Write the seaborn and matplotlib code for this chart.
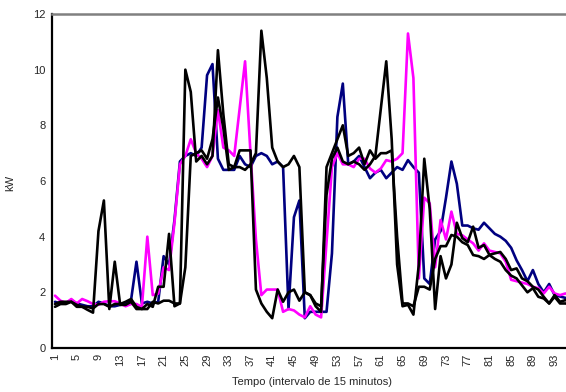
import numpy as np
import pandas as pd
import matplotlib
matplotlib.use("Agg")
import matplotlib.pyplot as plt
import seaborn as sns

# intervals of 15 minutes (96 per day)
tempo = list(range(1, 97))

magenta = [1.88, 1.70, 1.62, 1.76, 1.60, 1.76, 1.68, 1.58, 1.55, 1.66,
           1.68, 1.68, 1.60, 1.50, 1.58, 1.58, 1.48, 4.00, 1.90, 1.95,
           2.90, 2.80, 4.50, 6.60, 6.90, 7.50, 7.00, 6.80, 6.50, 6.90,
           8.55, 7.20, 7.10, 6.90, 8.60, 10.30, 7.00, 3.90, 1.90, 2.10,
           2.10, 2.10, 1.30, 1.40, 1.35, 1.20, 1.10, 1.50, 1.20, 1.10,
           3.80, 6.50, 7.00, 6.60, 6.60, 6.50, 6.80, 6.80, 6.45, 6.30,
           6.45, 6.75, 6.70, 6.80, 7.00, 11.30, 9.70, 2.50, 5.40, 5.20,
           2.90, 4.60, 3.90, 4.90, 4.10, 4.05, 3.90, 3.76, 3.50, 3.76,
           3.50, 3.45, 3.40, 3.10, 2.45, 2.40, 2.35, 2.30, 2.20, 2.15,
           1.96, 2.20, 1.96, 1.90, 1.96, 1.90]

navy = [1.66, 1.60, 1.60, 1.72, 1.60, 1.55, 1.50, 1.50, 1.66, 1.60,
        1.50, 1.50, 1.55, 1.60, 1.72, 3.10, 1.60, 1.66, 1.60, 1.66,
        3.30, 3.00, 4.60, 6.70, 6.90, 7.00, 6.90, 7.20, 9.80, 10.20,
        6.80, 6.40, 6.40, 6.40, 6.90, 6.60, 6.50, 6.90, 7.00, 6.90,
        6.60, 6.70, 6.50, 1.40, 4.70, 5.30, 1.07, 1.30, 1.30, 1.30,
        1.30, 3.40, 8.30, 9.50, 6.60, 6.70, 6.90, 6.50, 6.10, 6.30,
        6.40, 6.10, 6.30, 6.50, 6.40, 6.75, 6.50, 6.30, 2.50, 2.30,
        3.90, 4.20, 5.40, 6.70, 5.90, 4.40, 4.40, 4.30, 4.25, 4.50,
        4.30, 4.10, 4.00, 3.85, 3.60, 3.15, 2.80, 2.40, 2.80, 2.30,
        2.00, 2.30, 1.90, 1.85, 1.80, 1.75]

preto_1 = [1.48, 1.58, 1.58, 1.66, 1.48, 1.48, 1.37, 1.27, 4.20, 5.30,
           1.40, 3.10, 1.55, 1.55, 1.66, 1.40, 1.40, 1.40, 1.66, 1.60,
           1.70, 1.70, 1.60, 1.60, 10.00, 9.20, 6.70, 6.90, 6.60, 6.90,
           10.70, 8.40, 6.60, 6.50, 6.50, 6.40, 6.60, 7.00, 11.40, 9.70,
           7.20, 6.70, 6.50, 6.60, 6.90, 6.50, 2.00, 1.90, 1.60, 1.50,
           5.50, 6.80, 7.20, 6.70, 6.60, 6.70, 6.60, 6.40, 6.60, 6.90,
           8.60, 10.30, 7.50, 3.00, 1.50, 1.55, 1.20, 3.00, 6.80, 5.00,
           1.40, 3.30, 2.50, 3.00, 4.50, 3.95, 3.80, 4.36, 3.60, 3.70,
           3.35, 3.40, 3.45, 3.20, 2.80, 2.86, 2.50, 2.40, 2.20, 2.10,
           1.84, 1.60, 1.90, 1.66, 1.72, 1.65]

preto_2 = [1.58, 1.66, 1.66, 1.66, 1.55, 1.48, 1.48, 1.42, 1.58, 1.58,
           1.48, 1.58, 1.58, 1.66, 1.76, 1.48, 1.40, 1.58, 1.48, 2.20,
           2.20, 4.10, 1.50, 1.60, 2.90, 6.90, 7.00, 7.10, 6.80, 7.50,
           9.00, 7.90, 6.40, 6.50, 7.10, 7.10, 7.10, 2.10, 1.60, 1.30,
           1.07, 2.10, 1.66, 2.00, 2.10, 1.70, 2.00, 1.90, 1.50, 1.30,
           6.50, 7.00, 7.50, 8.00, 6.90, 7.00, 7.20, 6.60, 7.10, 6.80,
           7.00, 7.00, 7.10, 4.00, 1.60, 1.60, 1.50, 2.20, 2.20, 2.10,
           3.20, 3.66, 3.66, 4.06, 4.00, 3.80, 3.70, 3.34, 3.30, 3.20,
           3.34, 3.20, 3.10, 2.80, 2.60, 2.50, 2.25, 2.00, 2.15, 1.84,
           1.78, 1.60, 1.84, 1.60, 1.60, 1.55]

x_labels = list(range(1, 97, 4))

sns.set_style("white")
plt.rcParams['font.family'] = ['Liberation Sans', 'DejaVu Sans']

fig = plt.figure(figsize=(5.66, 3.92), dpi=100)
ax = fig.add_axes([52.3 / 566, 1 - 348 / 392, (573.6 - 52.3) / 566, (348 - 14) / 392])

series = [(navy, "#000080"), (magenta, "#FF00FF"), (preto_2, "black"), (preto_1, "black")]
for vals, col in series:
    sns.lineplot(x=tempo, y=vals, color=col, linewidth=1.9, ax=ax, legend=False)

ax.set_xlim(0.5, 96.5)
ax.set_ylim(0, 12)
ax.set_yticks(range(0, 13, 2))

# category labels, tick marks between categories
ax.set_xticks(x_labels)
ax.set_xticklabels([str(v) for v in x_labels], rotation=90, fontsize=8)
ax.set_xticks(np.arange(0.5, 97, 1), minor=True)
ax.tick_params(axis='x', which='major', length=0, pad=4)
ax.tick_params(axis='x', which='minor', length=3, width=0.8, color='black', direction='out')
ax.tick_params(axis='y', which='major', length=3, width=0.8, color='black', direction='out', labelsize=8, pad=2)

for s in ['left', 'bottom']:
    ax.spines[s].set_color('black')
    ax.spines[s].set_linewidth(1.6)
ax.spines['top'].set_color('#808080')
ax.spines['top'].set_linewidth(1.8)
ax.spines['right'].set_visible(False)

ax.set_xlabel("Tempo (intervalo de 15 minutos)", fontsize=8)
ax.set_ylabel("kW", fontsize=8)
ax.xaxis.set_label_coords((312 - 52.3) / (573.6 - 52.3), -29 / 334)
ax.yaxis.set_label_coords(-37 / 521.3, (348 - 183) / 334)

fig.savefig("out.png", dpi=100)
